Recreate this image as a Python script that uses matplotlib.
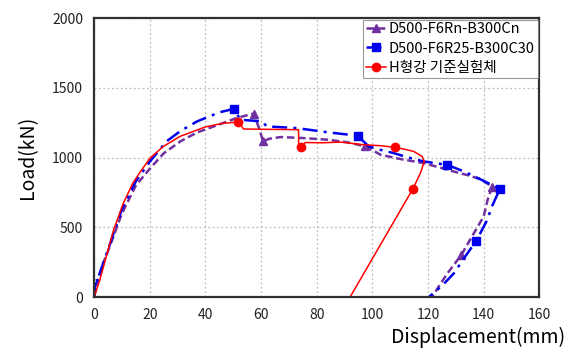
import matplotlib.pyplot as plt
import numpy as np

plt.rcParams['font.family'] = ['Noto Sans CJK KR', 'DejaVu Sans']

# 하중-변위 곡선 데이터 (mm, kN)
x_rn = [0, 1, 3, 5, 10, 15, 20, 25, 31, 37, 43, 51.3, 57.3, 59.5, 60.7, 63, 67, 75, 84, 91, 97.5,
        103, 110, 118.5, 124, 129.3, 135, 138.8, 143.1, 141.5, 140, 136, 132, 127, 124, 121.5]
y_rn = [0, 90, 230, 330, 600, 800, 920, 1030, 1116, 1180, 1223, 1284, 1315, 1200, 1116, 1135, 1147, 1140, 1128, 1110, 1080,
        1020, 990, 960, 930, 900, 870, 845, 792, 700, 577, 440, 302, 170, 80, 0]

x_r25 = [0, 0.6, 1.2, 2, 5, 10, 15, 20, 26, 31, 37, 45, 50.4, 52.5, 56, 60.3, 62.1, 67, 73, 84, 94.7,
         98.7, 103, 107.7, 113, 118.5, 126.9, 133, 138.8, 144.2, 145.8, 144.9, 143, 141.3, 137.4, 133, 129.3, 125, 120.3]
y_r25 = [0, 140, 110, 170, 340, 630, 830, 970, 1116, 1190, 1259, 1324, 1350, 1271, 1266, 1260, 1223, 1218, 1211, 1181, 1157,
         1080, 1055, 1032, 1000, 972, 948, 900, 845, 792, 776, 733, 650, 553, 404, 280, 170, 80, 0]

x_h = [0, 2, 4.5, 7, 10.5, 14, 17.1, 20.1, 24.9, 30.9, 39.9, 46, 51.9, 53.7, 60, 73.5, 73.5, 74.3, 75.9, 82, 88.5,
       96.9, 103, 108.3, 112, 114.9, 117.9, 118.7, 117.3, 114.6, 92]
y_h = [0, 120, 300, 481, 673, 820, 912, 996, 1080, 1152, 1219, 1245, 1255, 1205, 1203, 1200, 1080, 1075, 1108, 1106, 1111,
       1092, 1085, 1073, 1058, 1044, 1008, 972, 889, 776, 0]

mark_rn = [12, 14, 20, 28, 32]
mark_r25 = [12, 20, 26, 30, 34]
mark_h = [12, 17, 23, 29]

fig = plt.figure(figsize=(5.67, 3.61), dpi=100)
ax = fig.add_axes([0.166, 0.177, 0.785, 0.773])

ax.plot(x_rn, y_rn, color='#7030a0', linestyle=(0, (3, 1.5)), linewidth=1.8, marker='^', markersize=6,
        markevery=mark_rn, label='D500-F6Rn-B300Cn')
ax.plot(x_r25, y_r25, color='#0000ee', linestyle=(0, (6, 2.5, 1.2, 2.5)), linewidth=1.8, marker='s', markersize=6,
        markevery=mark_r25, label='D500-F6R25-B300C30')
ax.plot(x_h, y_h, color='#ff0000', linestyle='-', linewidth=1.1, marker='o', markersize=6,
        markevery=mark_h, label='H형강 기준실험체')

ax.set_xlim(0, 160)
ax.set_ylim(0, 2000)
ax.set_xticks(np.arange(0, 161, 20))
ax.set_yticks(np.arange(0, 2001, 500))
ax.tick_params(length=0, labelsize=10, pad=8, colors='#222222')
ax.grid(color='#bdbdbd', linestyle=(0, (1.5, 2)), linewidth=0.9)
for s in ax.spines.values():
    s.set_linewidth(1.6)
    s.set_color('#303030')

ax.set_ylabel('Load(kN)', fontsize=14, labelpad=10)
fig.text(0.997, 0.035, 'Displacement(mm)', fontsize=14, ha='right', va='bottom')

leg = ax.legend(loc='upper right', fontsize=10.5, frameon=True, fancybox=False, borderpad=0.2,
                handlelength=1.4, handletextpad=0.2, labelspacing=0.35, borderaxespad=0.1)
leg.get_frame().set_edgecolor('#808080')
leg.get_frame().set_linewidth(0.8)

fig.savefig('out.png', dpi=100)
